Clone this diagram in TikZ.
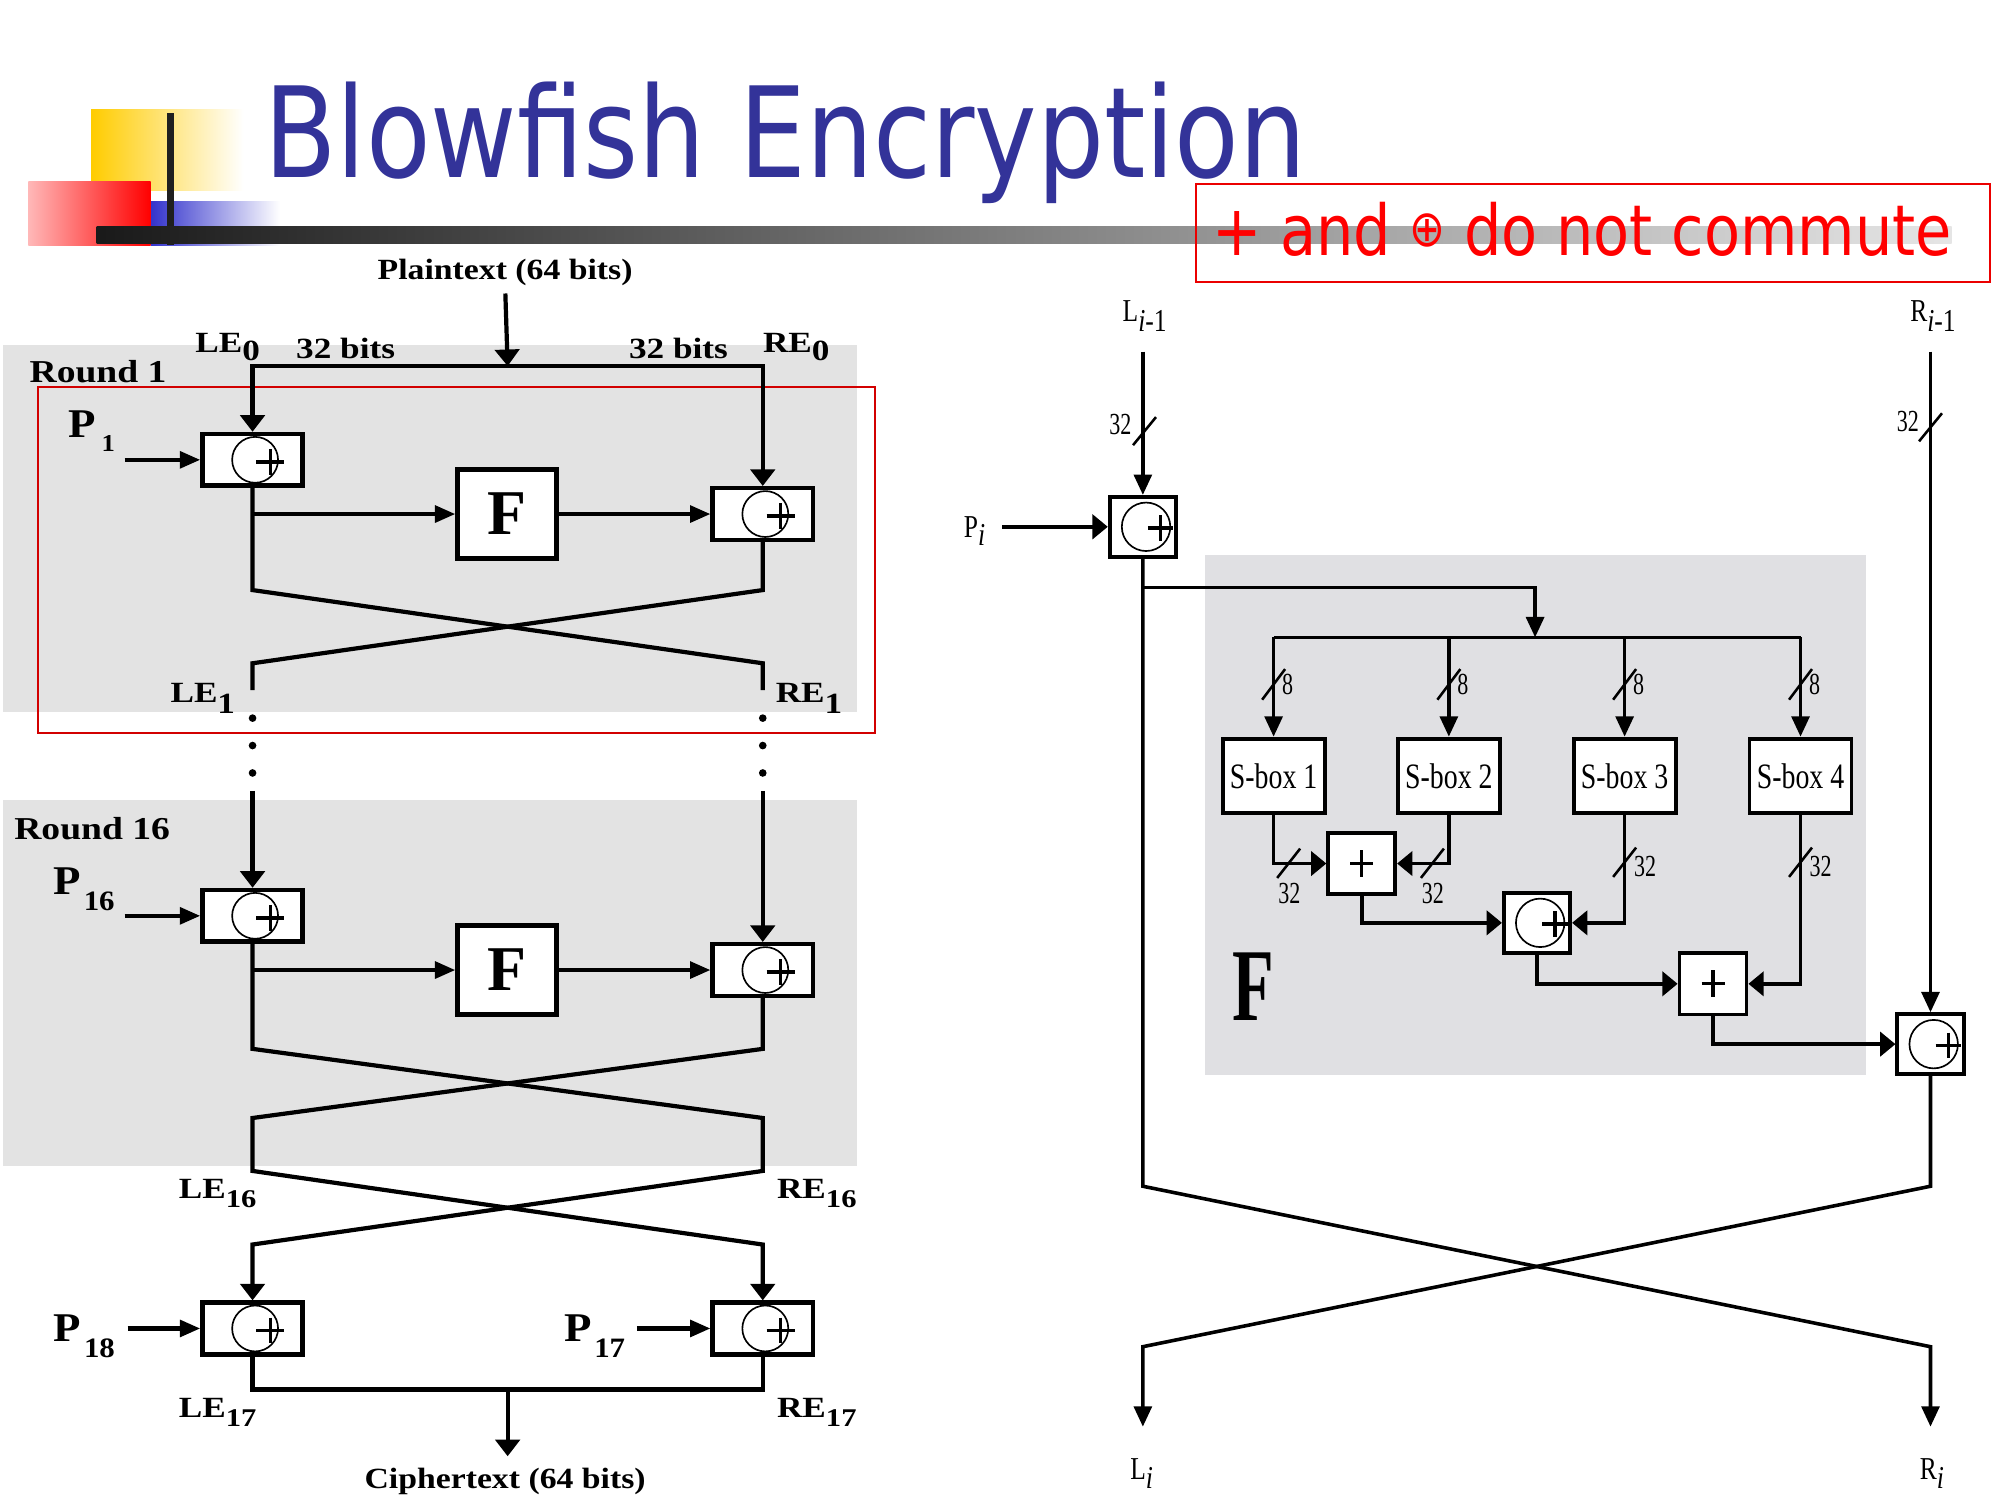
\documentclass[tikz,border=0pt]{standalone}
\usepackage{graphicx}
\usepackage{fontspec}
\setmainfont{Liberation Serif}
\newfontfamily\titlefont{DejaVu Sans}
\usetikzlibrary{arrows.meta}

\definecolor{titleblue}{RGB}{51,51,153}
\definecolor{noteRed}{RGB}{235,0,0}
\definecolor{frameRed}{RGB}{210,0,0}
\definecolor{panelgray}{RGB}{227,227,227}
\definecolor{fgray}{RGB}{224,224,227}
\definecolor{barY}{RGB}{255,204,0}
\definecolor{barB}{RGB}{51,51,204}

\newcommand\hsc[2]{\scalebox{#1}[1]{#2}}
\newcommand\fs[1]{\fontsize{#1}{#1}\selectfont}

\tikzset{
  ln/.style={line width=3.3pt},
  lnr/.style={line width=2.8pt},
  tipLv/.style={-{Triangle[length=13pt,width=19pt]}},
  tipLh/.style={-{Triangle[length=16pt,width=13pt]}},
  tipRv/.style={-{Triangle[length=16pt,width=14pt]}},
  tipRh/.style={-{Triangle[length=12pt,width=19pt]}},
  xorL/.style={draw, fill=white, line width=3.5pt, minimum width=78.5pt,
    minimum height=40.5pt, inner sep=0pt,
    path picture={
      \draw[line width=1.3pt] ([xshift=2pt]path picture bounding box.center) circle[radius=18pt];
      \draw[line width=2.8pt] ([xshift=3pt,yshift=-1.5pt]path picture bounding box.center) -- ++(22pt,0pt)
        ([xshift=14pt,yshift=8.5pt]path picture bounding box.center) -- ++(0pt,-20pt);
    }},
  xorR/.style={draw, fill=white, line width=3pt, minimum width=52pt,
    minimum height=47pt, inner sep=0pt,
    path picture={
      \draw[line width=1.3pt] ([xshift=2.5pt]path picture bounding box.center) circle[radius=19pt];
      \draw[line width=2.6pt] ([xshift=4pt,yshift=-1pt]path picture bounding box.center) -- ++(20pt,0pt)
        ([xshift=14pt,yshift=9pt]path picture bounding box.center) -- ++(0pt,-20pt);
    }},
  addR/.style={draw, fill=white, line width=3pt, minimum width=52.5pt,
    minimum height=48pt, inner sep=0pt,
    path picture={
      \draw[line width=2.6pt] ([xshift=-9pt]path picture bounding box.center) -- ++(18pt,0pt)
        ([yshift=10.5pt]path picture bounding box.center) -- ++(0pt,-21pt);
    }},
  fbox/.style={draw, fill=white, line width=3.5pt, minimum width=77.5pt,
    minimum height=69.5pt, inner sep=0pt, font=\fs{50}\bfseries},
  sbox/.style={draw, fill=white, line width=3pt, minimum width=80pt,
    minimum height=58.5pt, inner sep=0pt, font=\fs{28}},
  lb/.style={inner sep=0pt, font=\fs{23}\bfseries},
  rb/.style={inner sep=0pt, font=\fs{25}\bfseries},
  pl/.style={inner sep=0pt, font=\fs{32}\bfseries},
  rl/.style={inner sep=0pt, font=\fs{25}},
  nl/.style={inner sep=0pt, font=\fs{24}},
  sl/.style={line width=2pt},
  dot/.style={fill, circle, inner sep=0pt, minimum size=6pt},
}

\begin{document}
\begin{tikzpicture}[x=1pt,y=-1pt]
\useasboundingbox (0,0) rectangle (1568,1176);
\fill[white] (0,0) rectangle (1568,1176);

% ---------- heading ----------
\path[left color=barY, middle color=barY, right color=white] (71.4,85.5) rectangle (190.8,149.5);
\path[left color=barB, middle color=barB!75, right color=white] (118.1,158.1) rectangle (219.5,192.1);
\path[left color=red!28, right color=red] (22.2,142.4) rectangle (118.1,192.1);
\fill[black!88] (130.7,88.3) rectangle (136.4,192.1);
\path[left color=black!90, right color=black!10] (75.8,177.7) rectangle (1530,190.8);

\node[anchor=base west, inner sep=0pt, text=titleblue, font=\titlefont\fs{98.6}]
  (title) at (207,139.5) {\hsc{0.84}{Blowfish Encryption}};

\node[draw=noteRed, line width=1.6pt, minimum width=622pt, minimum height=77pt,
  inner sep=0pt] (note) at (1248.9,182.5) {};
\node[anchor=base west, inner sep=0pt, text=red, font=\titlefont\fs{55}]
  (notetext) at (950,200) {\hsc{0.84}{+ and {\fs{40}\raisebox{6.5pt}{⊕}} do not commute}};

% ---------- left: round structure ----------
\fill[panelgray] (2,270.5) rectangle (672,558);
\fill[panelgray] (2,627.4) rectangle (672,914.4);
\draw[frameRed, line width=1.5pt] (30,303.4) rectangle (686,575);

\node[lb, anchor=base] (pt) at (396,219) {\hsc{1.15}{Plaintext (64 bits)}};
\coordinate (bus0) at (398,287);

\node[xorL] (x1) at (198,360.5) {};
\node[fbox] (f1) at (397.5,403) {F};
\node[xorL] (x2) at (598,403) {};

\draw[ln, tipLv, shorten <=6pt] (pt.south) -- (bus0);
\draw[ln, tipLv] (bus0) -| (x1.north);
\draw[ln, tipLv] (bus0) -| (x2.north);

\node[lb, anchor=base west] (le0) at (153,276) {\hsc{1.2}{LE\raisebox{-7pt}{0}}};
\node[lb, anchor=base west] (re0) at (598,276) {\hsc{1.2}{RE\raisebox{-7pt}{0}}};
\node[lb, anchor=base west] (b32a) at (232,281) {\hsc{1.2}{32 bits}};
\node[lb, anchor=base west] (b32b) at (493,281) {\hsc{1.2}{32 bits}};
\node[rb, anchor=base west] (r1) at (23,300) {\hsc{1.18}{Round 1}};

\node[pl, anchor=base west] (p1) at (53.6,342.6) {\hsc{1.1}{P\kern4pt\raisebox{-11.5pt}{\fs{19}1}}};
\coordinate (p1a) at (97.7,360.5);
\draw[ln, tipLh] (p1a) -- (x1.west);

\draw[ln, tipLh] (x1.south |- f1.west) -- (f1.west);
\draw[ln, tipLh] (f1.east) -- (x2.west);

\coordinate (k1) at (398,462.6);
\coordinate (k2) at (398,520);
\coordinate (k3) at (398,541);
\draw[ln] (x1.south) -- (x1.south |- k1) -- (x2.south |- k2) -- (x2.south |- k3);
\draw[ln] (x2.south) -- (x2.south |- k1) -- (x1.south |- k2) -- (x1.south |- k3);

\node[lb, anchor=base west] (le1) at (133.5,551) {\hsc{1.2}{LE\raisebox{-8pt}{1}}};
\node[lb, anchor=base west] (re1) at (608,551) {\hsc{1.2}{RE\raisebox{-8pt}{1}}};

\foreach \yy [count=\i] in {563,584.5,606} {
  \node[dot] (dl\i) at (198,\yy) {};
  \node[dot] (dr\i) at (598,\yy) {};
}

% round 16
\node[xorL] (x3) at (198,718) {};
\node[fbox] (f2) at (397.5,760.5) {F};
\node[xorL] (x4) at (598,760.5) {};
\coordinate (u1) at (198,620);
\coordinate (u2) at (598,620);
\draw[ln, tipLv] (u1) -- (x3.north);
\draw[ln, tipLv] (u2) -- (x4.north);

\node[rb, anchor=base west] (r16) at (11,658) {\hsc{1.18}{Round 16}};
\node[pl, anchor=base west] (p16) at (41.8,701.4) {\hsc{1.1}{P\kern2pt\raisebox{-12.5pt}{\fs{22}16}}};
\coordinate (p16a) at (97.7,718);
\draw[ln, tipLh] (p16a) -- (x3.west);
\draw[ln, tipLh] (x3.south |- f2.west) -- (f2.west);
\draw[ln, tipLh] (f2.east) -- (x4.west);

\node[xorL] (x5) at (198,1041.5) {};
\node[xorL] (x6) at (598,1041.5) {};

\coordinate (m1) at (398,822.3);
\coordinate (m2) at (398,876.5);
\coordinate (m3) at (398,918);
\coordinate (m4) at (398,975.7);
\draw[ln, tipLv] (x3.south) -- (x3.south |- m1) -- (x4.south |- m2) -- (x4.south |- m3)
  -- (x3.south |- m4) -- (x5.north);
\draw[ln, tipLv] (x4.south) -- (x4.south |- m1) -- (x3.south |- m2) -- (x3.south |- m3)
  -- (x4.south |- m4) -- (x6.north);

\node[lb, anchor=base west] (le16) at (140,939.6) {\hsc{1.2}{LE\raisebox{-7pt}{\fs{20}16}}};
\node[lb, anchor=base west] (re16) at (609,939.6) {\hsc{1.2}{RE\raisebox{-7pt}{\fs{20}16}}};

\node[pl, anchor=base west] (p18) at (42,1051.5) {\hsc{1.1}{P\kern2pt\raisebox{-12.5pt}{\fs{22}18}}};
\node[pl, anchor=base west] (p17) at (442,1051.5) {\hsc{1.1}{P\kern2pt\raisebox{-12.5pt}{\fs{22}17}}};
\coordinate (p18a) at (100,1041.5);
\coordinate (p17a) at (499.4,1041.5);
\draw[ln, tipLh] (p18a) -- (x5.west);
\draw[ln, tipLh] (p17a) -- (x6.west);

\coordinate (cb) at (398,1089.4);
\coordinate (ce) at (398,1141.7);
\draw[ln] (x5.south) -- (x5.south |- cb) -- (x6.south |- cb) -- (x6.south);
\draw[ln, tipLv] (cb) -- (ce);

\node[lb, anchor=base west] (le17) at (140,1111) {\hsc{1.2}{LE\raisebox{-7pt}{\fs{20}17}}};
\node[lb, anchor=base west] (re17) at (609,1111) {\hsc{1.2}{RE\raisebox{-7pt}{\fs{20}17}}};
\node[lb, anchor=base] (ct) at (396,1167) {\hsc{1.15}{Ciphertext (64 bits)}};

% ---------- right: function F ----------
\fill[fgray] (945,435) rectangle (1463,843);

\node[rl, anchor=base west] (lim1) at (880,252.2) {\hsc{0.8}{L\raisebox{-8pt}{\textit{i}-1}}};
\node[rl, anchor=base west] (rim1) at (1497.5,252.2) {\hsc{0.8}{R\raisebox{-8pt}{\textit{i}-1}}};
\coordinate (lt) at (896,275.7);
\coordinate (rt) at (1513.5,275.7);

\node[xorR] (pi) at (896,413) {};
\node[xorR] (bx) at (1513.5,818.6) {};
\draw[lnr, tipRv] (lt) -- (pi.north);
\draw[lnr, tipRv] (rt) -- (bx.north);

\coordinate (sa) at (897.3,338);
\coordinate (sb) at (1513.5,335);
\draw[sl] ([shift={(-9pt,-11pt)}]sa) -- ([shift={(9pt,11pt)}]sa);
\draw[sl] ([shift={(-9pt,-11pt)}]sb) -- ([shift={(9pt,11pt)}]sb);
\node[nl, anchor=base west] (n32a) at (869.5,341) {\hsc{0.72}{32}};
\node[nl, anchor=base west] (n32b) at (1487,338.5) {\hsc{0.72}{32}};

\node[rl, anchor=base west] (pil) at (755.5,421) {\hsc{0.8}{P\raisebox{-7pt}{\textit{i}}}};
\coordinate (pia) at (785.6,413);
\draw[lnr, tipRh] (pia) -- (pi.west);

\node[sbox] (s1) at (998.5,608.3) {\hsc{0.78}{S-box 1}};
\node[sbox] (s2) at (1135.9,608.3) {\hsc{0.78}{S-box 2}};
\node[sbox] (s3) at (1273.7,608.3) {\hsc{0.78}{S-box 3}};
\node[sbox] (s4) at (1411.6,608.3) {\hsc{0.78}{S-box 4}};

\coordinate (brY) at (1203.5,460.5);
\coordinate (busc) at (1203.5,499.7);
\draw[lnr, tipRv] (pi.south |- brY) -| (busc);
\draw[lnr] (s1.north |- busc) -- (s4.north |- busc);
\foreach \s in {s1,s2,s3,s4} {
  \draw[lnr, tipRv] (\s.north |- busc) -- (\s.north);
  \coordinate (\s e) at ([yshift=41pt]\s.north);
  \draw[sl] ([shift={(-9pt,-12pt)}]\s e) -- ([shift={(9pt,12pt)}]\s e);
  \node[nl, anchor=base west] (\s n) at ([xshift=6.5pt,yshift=-8pt]\s e) {\hsc{0.72}{8}};
}

\node[addR] (a1) at (1067.6,677) {};
\node[xorR] (xf) at (1205,723.5) {};
\node[addR] (a2) at (1343,771.3) {};

\draw[lnr, tipRh] (s1.south) |- (a1.west);
\draw[lnr, tipRh] (s2.south) |- (a1.east);
\draw[lnr, tipRh] (a1.south) |- (xf.west);
\draw[lnr, tipRh] (s3.south) |- (xf.east);
\draw[lnr, tipRh] (xf.south) |- (a2.west);
\draw[lnr, tipRh] (s4.south) |- (a2.east);
\draw[lnr, tipRh] (a2.south) |- (bx.west);

\coordinate (q1) at (1010.3,676.8);
\coordinate (q2) at (1123,676.8);
\coordinate (q3) at (1273.7,676);
\coordinate (q4) at (1411.6,676);
\foreach \q in {q1,q2,q3,q4}
  \draw[sl] ([shift={(-9pt,-11.5pt)}]\q) -- ([shift={(9pt,11.5pt)}]\q);
\node[nl, anchor=base west] (n32c) at (1002,708) {\hsc{0.72}{32}};
\node[nl, anchor=base west] (n32d) at (1114.5,708) {\hsc{0.72}{32}};
\node[nl, anchor=base west] (n32e) at (1281,687) {\hsc{0.72}{32}};
\node[nl, anchor=base west] (n32f) at (1418.5,687) {\hsc{0.72}{32}};

\node[inner sep=0pt, anchor=base west, font=\fs{81}\bfseries] (fl) at (966,799.7) {\hsc{0.66}{F}};

\coordinate (ytop) at (1204,930);
\coordinate (ybot) at (1204,1055.8);
\coordinate (yend) at (1204,1118.5);
\draw[lnr, tipRv] (pi.south) -- (pi.south |- ytop) -- (bx.south |- ybot) -- (bx.south |- yend);
\draw[lnr, tipRv] (bx.south) -- (bx.south |- ytop) -- (pi.south |- ybot) -- (pi.south |- yend);

\node[rl, anchor=base west] (li) at (886,1160) {\hsc{0.8}{L\raisebox{-7pt}{\textit{i}}}};
\node[rl, anchor=base west] (ri) at (1505,1160) {\hsc{0.8}{R\raisebox{-7pt}{\textit{i}}}};
\end{tikzpicture}
\end{document}
